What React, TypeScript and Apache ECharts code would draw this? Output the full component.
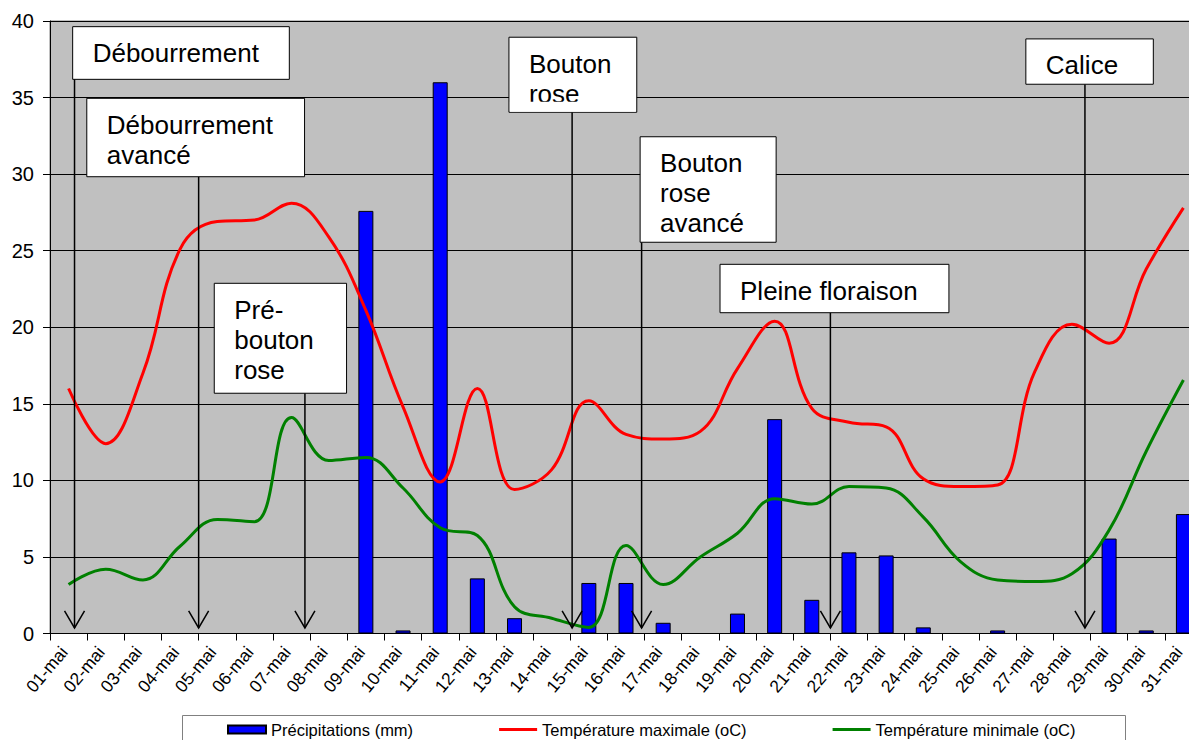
import React, { useEffect, useRef } from "react";
import * as echarts from "echarts";

const days = [
  "01-mai", "02-mai", "03-mai", "04-mai", "05-mai", "06-mai", "07-mai", "08-mai",
  "09-mai", "10-mai", "11-mai", "12-mai", "13-mai", "14-mai", "15-mai", "16-mai",
  "17-mai", "18-mai", "19-mai", "20-mai", "21-mai", "22-mai", "23-mai", "24-mai",
  "25-mai", "26-mai", "27-mai", "28-mai", "29-mai", "30-mai", "31-mai",
];

const precipitation = [
  0, 0, 0, 0, 0, 0, 0, 0, 27.6, 0.2, 36.0, 3.6, 1.0, 0, 3.3, 3.3,
  0.7, 0, 1.3, 14.0, 2.2, 5.3, 5.1, 0.4, 0, 0.2, 0, 0, 6.2, 0.2, 7.8,
];

const tempMax = [
  16.0, 12.4, 17.0, 25.1, 26.9, 27.0, 28.1, 25.9, 21.1, 14.8, 9.9, 16.0, 9.4, 10.7, 15.2, 13.0,
  12.7, 13.2, 17.3, 20.4, 14.7, 13.8, 13.5, 10.1, 9.6, 9.7, 17.1, 20.2, 18.95, 23.8, 27.8,
];

const tempMin = [
  3.2, 4.2, 3.5, 5.7, 7.45, 7.3, 14.1, 11.3, 11.5, 9.5, 6.9, 6.4, 1.75, 1.0, 0.4, 5.75,
  3.2, 5.0, 6.55, 8.8, 8.45, 9.6, 9.5, 7.6, 4.7, 3.5, 3.4, 3.9, 6.75, 11.9, 16.55,
];

const seriesNames = [
  "Précipitations (mm)",
  "Température maximale (oC)",
  "Température minimale (oC)",
];

const yMin = 0;
const yMax = 40;
const yStep = 5;

// Stage annotations, in data units: x as (fractional) day index, y as axis value
type Annotation = {
  lines: string[];
  x0: number;
  x1: number;
  top: number;
  bottom: number;
  arrowX: number;
  clipLines?: number;
};

const annotations: Annotation[] = [
  { lines: ["Débourrement"], x0: 0.11, x1: 5.94, top: 39.63, bottom: 36.19, arrowX: 0.16 },
  { lines: ["Débourrement", "avancé"], x0: 0.49, x1: 6.35, top: 34.95, bottom: 29.83, arrowX: 3.5 },
  { lines: ["Pré-", "bouton", "rose"], x0: 3.92, x1: 7.48, top: 22.87, bottom: 15.69, arrowX: 6.36 },
  { lines: ["Bouton", "rose"], x0: 11.85, x1: 15.29, top: 38.94, bottom: 34.04, arrowX: 13.55, clipLines: 64.4 },
  { lines: ["Bouton", "rose", "avancé"], x0: 15.38, x1: 19.04, top: 32.44, bottom: 25.55, arrowX: 15.42 },
  { lines: ["Pleine floraison"], x0: 17.53, x1: 23.69, top: 24.11, bottom: 20.95, arrowX: 20.5 },
  { lines: ["Calice"], x0: 25.76, x1: 29.19, top: 38.83, bottom: 35.87, arrowX: 27.35 },
];
const arrowTipValue = 0.36;

const FONT = '"Liberation Sans", Arial, Helvetica, sans-serif';
const LINE_ICON = "path://M0,0 L40,0 L40,3 L0,3 Z";

export default function App() {
  const ref = useRef<HTMLDivElement>(null);

  useEffect(() => {
    if (!ref.current) return;
    const chart = echarts.init(ref.current, null, { renderer: "svg" });

    chart.setOption({
      animation: false,
      textStyle: { fontFamily: FONT },
      grid: {
        left: 50,
        top: 21,
        right: 0,
        bottom: 106.5,
        show: true,
        backgroundColor: "#C0C0C0",
        borderColor: "#808080",
        borderWidth: 1,
      },
      legend: {
        left: 222,
        top: 716,
        itemGap: 86,
        itemWidth: 38,
        itemHeight: 8,
        z: 10,
        textStyle: { fontFamily: FONT, fontSize: 16.5, color: "#000" },
        data: [
          { name: seriesNames[0], icon: "rect" },
          { name: seriesNames[1], icon: LINE_ICON },
          { name: seriesNames[2], icon: LINE_ICON },
        ],
      },
      xAxis: {
        type: "category",
        data: days,
        boundaryGap: true,
        axisLine: { show: true, lineStyle: { color: "#000", width: 1 } },
        axisTick: { show: true, interval: 0, length: 7, lineStyle: { color: "#000" } },
        axisLabel: {
          interval: 0,
          rotate: 50,
          margin: 10,
          padding: [0, 7, 0, 0],
          fontSize: 17.5,
          color: "#000",
          fontFamily: FONT,
        },
        splitLine: { show: false },
      },
      yAxis: {
        type: "value",
        min: yMin,
        max: yMax,
        interval: yStep,
        axisLine: { show: true, lineStyle: { color: "#000", width: 1 } },
        axisTick: { show: true, length: 7, lineStyle: { color: "#000" } },
        axisLabel: { fontSize: 20, color: "#000", margin: 16, fontFamily: FONT },
        splitLine: { show: true, lineStyle: { color: "#000", width: 1 } },
      },
      series: [
        {
          name: seriesNames[0],
          type: "bar",
          data: precipitation,
          barWidth: 15,
          itemStyle: { color: "#0000FF", borderColor: "#000", borderWidth: 1 },
          z: 2,
        },
        {
          name: seriesNames[1],
          type: "line",
          data: tempMax,
          smooth: 0.4,
          symbol: "none",
          showSymbol: false,
          lineStyle: { color: "#FF0000", width: 3 },
          itemStyle: { color: "#FF0000" },
          z: 3,
        },
        {
          name: seriesNames[2],
          type: "line",
          data: tempMin,
          smooth: 0.4,
          symbol: "none",
          showSymbol: false,
          lineStyle: { color: "#008000", width: 3 },
          itemStyle: { color: "#008000" },
          z: 3,
        },
      ],
    });

    const c0 = chart.convertToPixel({ xAxisIndex: 0 }, 0) as number;
    const c1 = chart.convertToPixel({ xAxisIndex: 0 }, 1) as number;
    const band = c1 - c0;
    const px = (i: number) => c0 + i * band;
    const py = (v: number) => chart.convertToPixel({ yAxisIndex: 0 }, v) as number;

    const elements: any[] = [];
    // legend frame
    elements.push({
      type: "rect",
      z: 1,
      shape: { x: 182.5, y: 715.5, width: 943, height: 40 },
      style: { fill: "#FFFFFF", stroke: "#808080", lineWidth: 1 },
    });

    const tipY = py(arrowTipValue);
    annotations.forEach((a) => {
      const bx = px(a.x0);
      const bw = px(a.x1) - bx;
      const by = py(a.top);
      const bh = py(a.bottom) - by;
      const ax = px(a.arrowX);
      elements.push({
        type: "line",
        z: 100,
        shape: { x1: ax, y1: by + bh, x2: ax, y2: tipY },
        style: { stroke: "#000", lineWidth: 1.5 },
      });
      elements.push({
        type: "polyline",
        z: 100,
        shape: { points: [[ax - 10, tipY - 17], [ax, tipY], [ax + 10, tipY - 17]] },
        style: { stroke: "#000", lineWidth: 1.5, fill: null },
      });
      elements.push({
        type: "rect",
        z: 101,
        shape: { x: bx, y: by, width: bw, height: bh },
        style: { fill: "#FFFFFF", stroke: "#000", lineWidth: 1 },
      });
      a.lines.forEach((ln, k) => {
        elements.push({
          type: "text",
          z: 102,
          style: {
            text: ln,
            x: bx + 20,
            y: by + 26.5 + 30 * k,
            font: `26px ${FONT}`,
            fill: "#000",
            align: "left",
            verticalAlign: "middle",
            textAlign: "left",
            textVerticalAlign: "middle",
          },
        });
      });
      if (a.clipLines) {
        elements.push({
          type: "rect",
          z: 103,
          shape: { x: bx + 1, y: by + a.clipLines, width: bw - 2, height: bh - a.clipLines - 0.5 },
          style: { fill: "#FFFFFF", stroke: null },
        });
      }
    });

    chart.setOption({ graphic: { elements } });

    return () => chart.dispose();
  }, []);

  return (
    <div
      style={{
        position: "fixed",
        left: 0,
        top: 0,
        width: 1189,
        height: 740,
        overflow: "hidden",
        background: "#fff",
      }}
    >
      <div ref={ref} style={{ width: 1202, height: 740 }} />
    </div>
  );
}
